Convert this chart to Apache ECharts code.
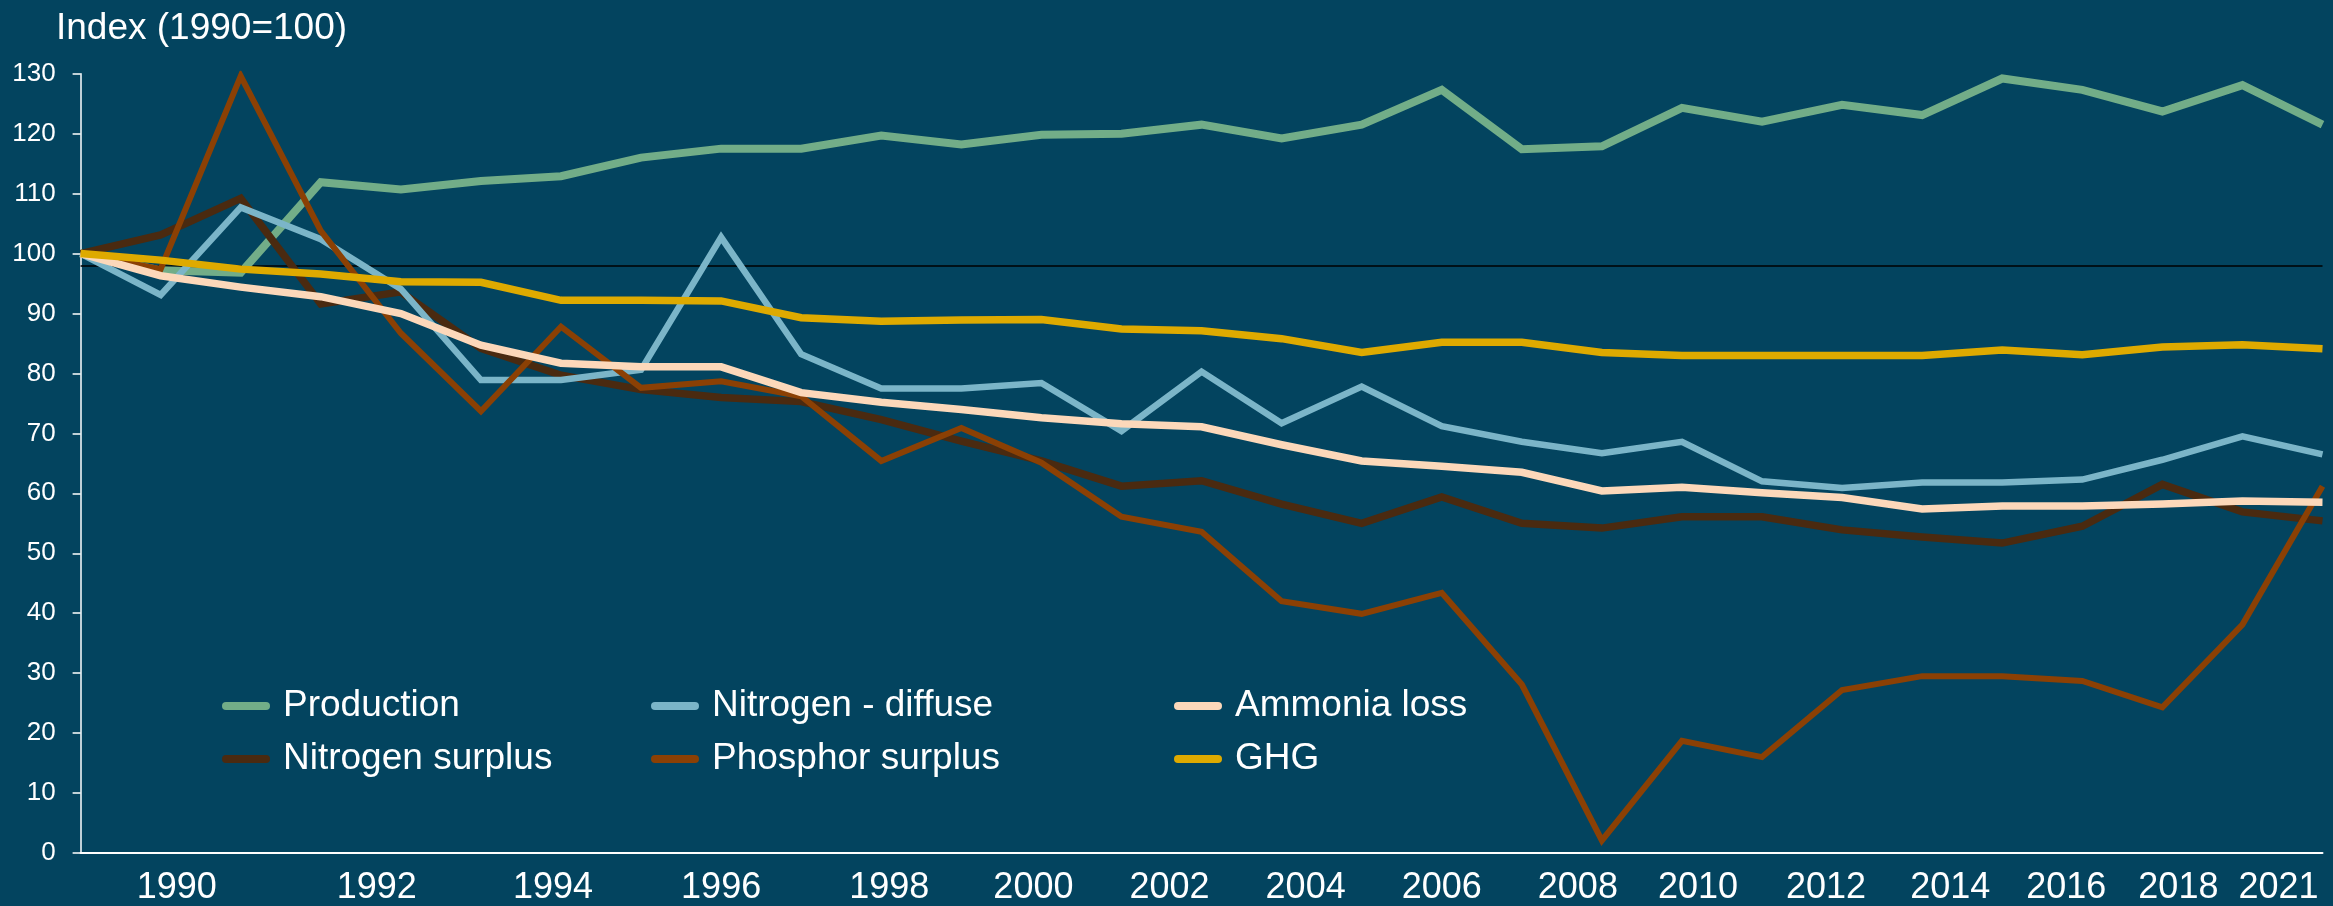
<!DOCTYPE html>
<html>
<head>
<meta charset="utf-8">
<title>Index (1990=100)</title>
<script src="https://cdn.jsdelivr.net/npm/echarts@6/dist/echarts.min.js"></script>
<style>
  html, body { margin: 0; padding: 0; background: #03445f; }
  #chart { width: 2333px; height: 906px; }
</style>
</head>
<body>
<div id="chart"></div>
<script>
// Values, one per plotted point (29 points, left to right)
const production = [100, 97.2, 96.8, 111.9, 110.7, 112.1, 112.9, 116.0, 117.5, 117.5, 119.7, 118.2, 119.8, 120.0, 121.5,
  119.2, 121.5, 127.3, 117.4, 117.9, 124.3, 122.0, 124.8, 123.1, 129.2, 127.3, 123.7, 128.1, 121.5];
const nitrogenDiffuse = [100, 93.1, 107.7, 102.4, 94.1, 78.9, 78.9, 80.6, 102.7, 83.2, 77.5, 77.5, 78.4, 70.4, 80.3,
  71.7, 77.8, 71.2, 68.6, 66.7, 68.6, 62.0, 60.9, 61.8, 61.8, 62.3, 65.6, 69.5, 66.5];
const ammoniaLoss = [100, 96.3, 94.4, 92.8, 90.0, 84.7, 81.7, 81.1, 81.1, 76.8, 75.2, 74.0, 72.6, 71.6, 71.1,
  68.1, 65.4, 64.5, 63.5, 60.4, 61.0, 60.1, 59.3, 57.4, 57.9, 57.9, 58.2, 58.7, 58.5];
const nitrogenSurplus = [100, 103.1, 109.2, 91.6, 93.6, 84.2, 79.7, 77.3, 76.0, 75.3, 72.3, 68.7, 65.4, 61.2, 62.1,
  58.2, 55.0, 59.4, 55.0, 54.2, 56.1, 56.1, 53.9, 52.7, 51.7, 54.5, 61.5, 56.9, 55.4];
const phosphorSurplus = [100, 97.4, 129.6, 103.8, 86.7, 73.7, 87.8, 77.6, 78.7, 76.2, 65.4, 70.9, 65.1, 56.1, 53.6,
  42.0, 39.9, 43.4, 28.1, 2.1, 18.7, 16.0, 27.2, 29.5, 29.5, 28.7, 24.3, 38.1, 61.2];
const ghg = [100, 98.9, 97.4, 96.6, 95.3, 95.2, 92.2, 92.2, 92.1, 89.3, 88.7, 88.9, 89.0, 87.4, 87.1,
  85.8, 83.5, 85.2, 85.2, 83.5, 83.0, 83.0, 83.0, 83.0, 83.9, 83.1, 84.4, 84.8, 84.1];

// Year tick labels and where they sit along the point index scale
const yearLabels = ["1990", "1992", "1994", "1996", "1998", "2000", "2002", "2004", "2006", "2008",
  "2010", "2012", "2014", "2016", "2018", "2021"];
const yearLabelAt = [1.2, 3.7, 5.9, 8.0, 10.1, 11.9, 13.6, 15.3, 17.0, 18.7, 20.2, 21.8, 23.35, 24.8, 26.2, 27.45];

const referenceLevel = 98;

const FONT = "'Liberation Sans', Arial, sans-serif";
const pill = "path://M4,0 L44,0 A4,4 0 0 1 44,8 L4,8 A4,4 0 0 1 4,0 Z";

const seriesDefs = [
  { name: "Production", values: production, color: "#72ad88", width: 8 },
  { name: "Nitrogen surplus", values: nitrogenSurplus, color: "#4a2a10", width: 7.5 },
  { name: "Nitrogen - diffuse", values: nitrogenDiffuse, color: "#7bb5c8", width: 6.5 },
  { name: "Phosphor surplus", values: phosphorSurplus, color: "#8b4004", width: 6 },
  { name: "Ammonia loss", values: ammoniaLoss, color: "#fcd8ba", width: 7.5 },
  { name: "GHG", values: ghg, color: "#deaa00", width: 7.5 },
];

const chart = echarts.init(document.getElementById("chart"), null, { renderer: "canvas" });

const series = seriesDefs.map((s, k) => ({
  name: s.name,
  type: "line",
  data: s.values.map((v, i) => [i, v]),
  showSymbol: false,
  symbol: "none",
  animation: false,
  z: 2 + k,
  lineStyle: { color: s.color, width: s.width, join: "miter" },
  itemStyle: { color: s.color },
}));

// thin black reference line
series[0].markLine = {
  silent: true,
  symbol: "none",
  label: { show: false },
  lineStyle: { color: "#000000", width: 1.5, type: "solid" },
  data: [{ yAxis: referenceLevel }],
  z: 1,
};

const legendBase = {
  orient: "vertical",
  top: 681,
  itemWidth: 48,
  itemHeight: 8,
  itemGap: 13,
  icon: pill,
  selectedMode: false,
  textStyle: {
    color: "#ffffff",
    fontFamily: FONT,
    fontSize: 37,
    lineHeight: 40,
    padding: [0, 0, 0, 8],
  },
};

chart.setOption({
  backgroundColor: "#03445f",
  animation: false,
  title: {
    text: "Index (1990=100)",
    left: 56,
    top: 10,
    padding: 0,
    textStyle: { color: "#ffffff", fontFamily: FONT, fontSize: 37, fontWeight: "normal" },
  },
  legend: [
    Object.assign({}, legendBase, { left: 217, data: ["Production", "Nitrogen surplus"] }),
    Object.assign({}, legendBase, { left: 646, data: ["Nitrogen - diffuse", "Phosphor surplus"] }),
    Object.assign({}, legendBase, { left: 1169, data: ["Ammonia loss", "GHG"] }),
  ],
  grid: { left: 80.6, right: 10.5, top: 73.7, bottom: 50, containLabel: false },
  xAxis: {
    type: "value",
    min: 0,
    max: 28,
    axisLine: { show: true, lineStyle: { color: "#ffffff", width: 2 } },
    axisTick: { show: false },
    splitLine: { show: false },
    axisLabel: {
      customValues: yearLabelAt,
      color: "#ffffff",
      fontFamily: FONT,
      fontSize: 36,
      margin: 17,
      hideOverlap: false,
      formatter: (v) => {
        let best = 0;
        yearLabelAt.forEach((p, i) => {
          if (Math.abs(p - v) < Math.abs(yearLabelAt[best] - v)) best = i;
        });
        return yearLabels[best];
      },
    },
  },
  yAxis: {
    type: "value",
    min: 0,
    max: 130,
    interval: 10,
    axisLine: { show: true, lineStyle: { color: "#ffffff", width: 1.5 } },
    axisTick: { show: true, inside: false, length: 8, lineStyle: { color: "#ffffff", width: 1.5 } },
    splitLine: { show: false },
    axisLabel: { color: "#ffffff", fontFamily: FONT, fontSize: 26, margin: 25 },
  },
  series: series,
});
</script>
</body>
</html>
